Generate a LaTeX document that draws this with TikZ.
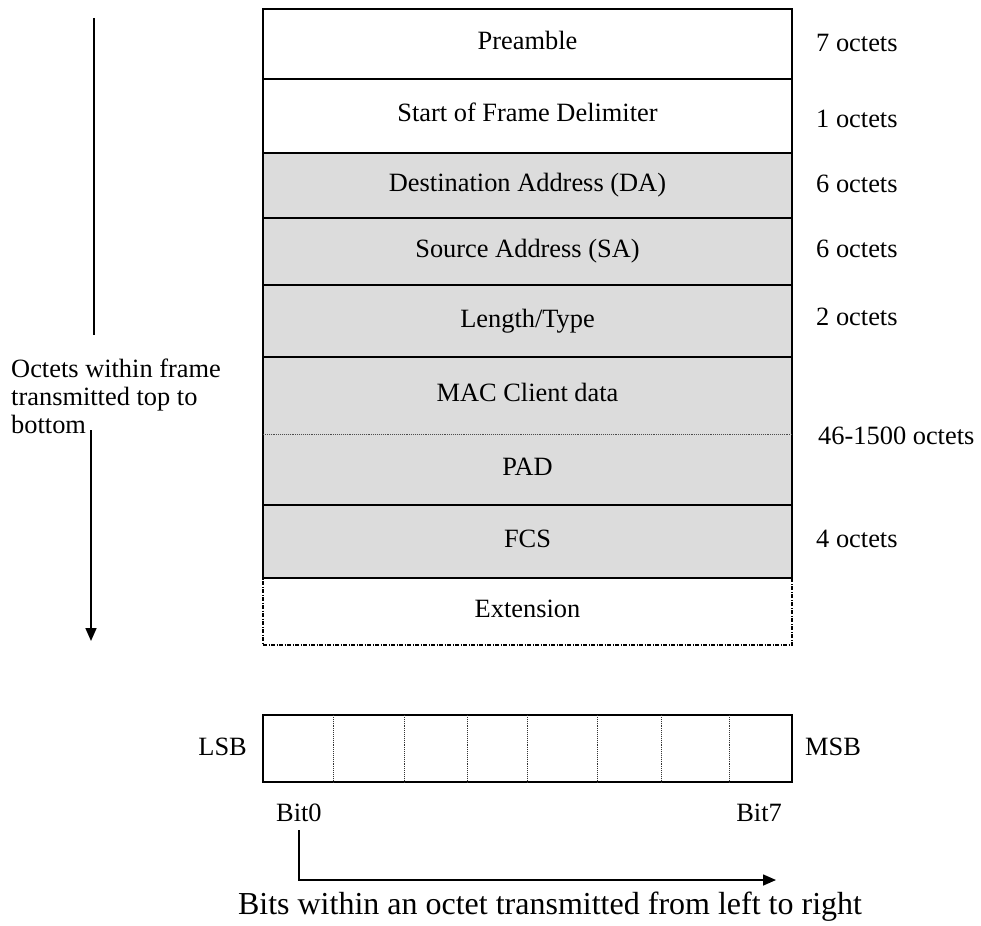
\documentclass[tikz,border=0pt]{standalone}
\usepackage{fontspec}
\setmainfont{Liberation Serif}
\usepackage{tikz}
\usetikzlibrary{positioning,arrows.meta}
\definecolor{fieldgray}{RGB}{220,220,220}
\tikzset{field node/.style={rectangle,draw,line width=2.2pt,minimum width=529pt,outer sep=0pt,inner sep=0pt,text height=18pt,text depth=6pt,font=\fontsize{26.4}{28}\selectfont},
gray node/.style={field node,fill=fieldgray},
open node/.style={field node,draw=none,fill=fieldgray},
ext node/.style={field node,line width=1.4pt,dash pattern=on 4pt off 1.5pt on 1pt off 1.5pt},
size node/.style={anchor=base west,inner sep=0pt,font=\fontsize{26.4}{28}\selectfont},
byte node/.style={rectangle,draw,line width=2.2pt,minimum width=529pt,minimum height=67pt,outer sep=0pt},
byte split/.style={line width=0.9pt,densely dotted,black!80},
frame split/.style={line width=0.9pt,densely dotted,black!70},
flow/.style={line width=1.6pt,-{Triangle[length=13pt,width=11pt]}},
}

\begin{document}
\begin{tikzpicture}[x=1pt,y=-1pt]
\useasboundingbox (0,0) rectangle (981,925);

%% frame fields
\node[field node, minimum height=70pt] (pre) at (527.5,44) {Preamble};
\node[field node, minimum height=74pt, below=0pt of pre] (sfd) {Start of Frame Delimiter};
\node[gray node, minimum height=65pt, below=0pt of sfd] (da) {Destination Address (DA)};
\node[gray node, minimum height=67pt, below=0pt of da] (sa) {Source Address (SA)};
\node[gray node, minimum height=72pt, below=0pt of sa] (lt) {Length/Type};
\node[open node, minimum height=77pt, below=0pt of lt] (mac) {MAC Client data};
\node[open node, minimum height=71pt, below=0pt of mac] (pad) {PAD};
\node[gray node, minimum height=73pt, below=0pt of pad] (fcs) {FCS};
\node[ext node, minimum height=67pt, below=0pt of fcs] (ext) {Extension};
\draw[line width=2.2pt] (mac.north west) rectangle (pad.south east);
\draw[frame split] (mac.south west) -- (mac.south east);

%% sizes
\node[size node] (s1) at ([xshift=24pt,yshift=-2pt]pre.base east) {7 octets};
\node[size node] (s2) at ([xshift=24pt,yshift=-6pt]sfd.base east) {1 octets};
\node[size node] (s3) at ([xshift=24pt,yshift=-1.5pt]da.base east) {6 octets};
\node[size node] (s4) at ([xshift=24pt]sa.base east) {6 octets};
\node[size node] (s5) at ([xshift=24pt,yshift=2pt]lt.base east) {2 octets};
\node[size node] (s6) at ([xshift=26pt,yshift=-10pt]mac.south east) {46-1500 octets};
\node[size node] (s7) at ([xshift=24pt]fcs.base east) {4 octets};

%% octet order
\coordinate (t1) at (94,18);
\coordinate (t2) at (94,335);
\draw[line width=1.8pt] (t1) -- (t2);
\node[size node, anchor=north west, align=left] (dir) at (11,359) {Octets within frame\\transmitted top to\\bottom};
\coordinate (a1) at (91,430);
\coordinate (a2) at (91,641);
\draw[flow] (a1) -- (a2);

%% bit order
\node[byte node] (byte) at (527.5,748.5) {};
\foreach \x in {70,141,204,264,334,398,466}
  \draw[byte split] ([xshift=\x pt]byte.north west) -- ([xshift=\x pt]byte.south west);
\node[size node, anchor=base east] (lsb) at ([xshift=-16pt,yshift=-6.5pt]byte.west) {LSB};
\node[size node] (msb) at ([xshift=13pt,yshift=-6.5pt]byte.east) {MSB};
\node[size node] (bit0) at ([xshift=13pt,yshift=-39pt]byte.south west) {Bit0};
\node[size node, anchor=base east] (bit7) at ([xshift=-10pt,yshift=-39pt]byte.south east) {Bit7};
\coordinate (b2) at (776,880);
\draw[flow] ([yshift=-9pt]bit0.south) |- (b2);
\node[size node, anchor=base, font=\fontsize{32}{36}\selectfont] (cap) at (550,914) {Bits within an octet transmitted from left to right};
\end{tikzpicture}
\end{document}
